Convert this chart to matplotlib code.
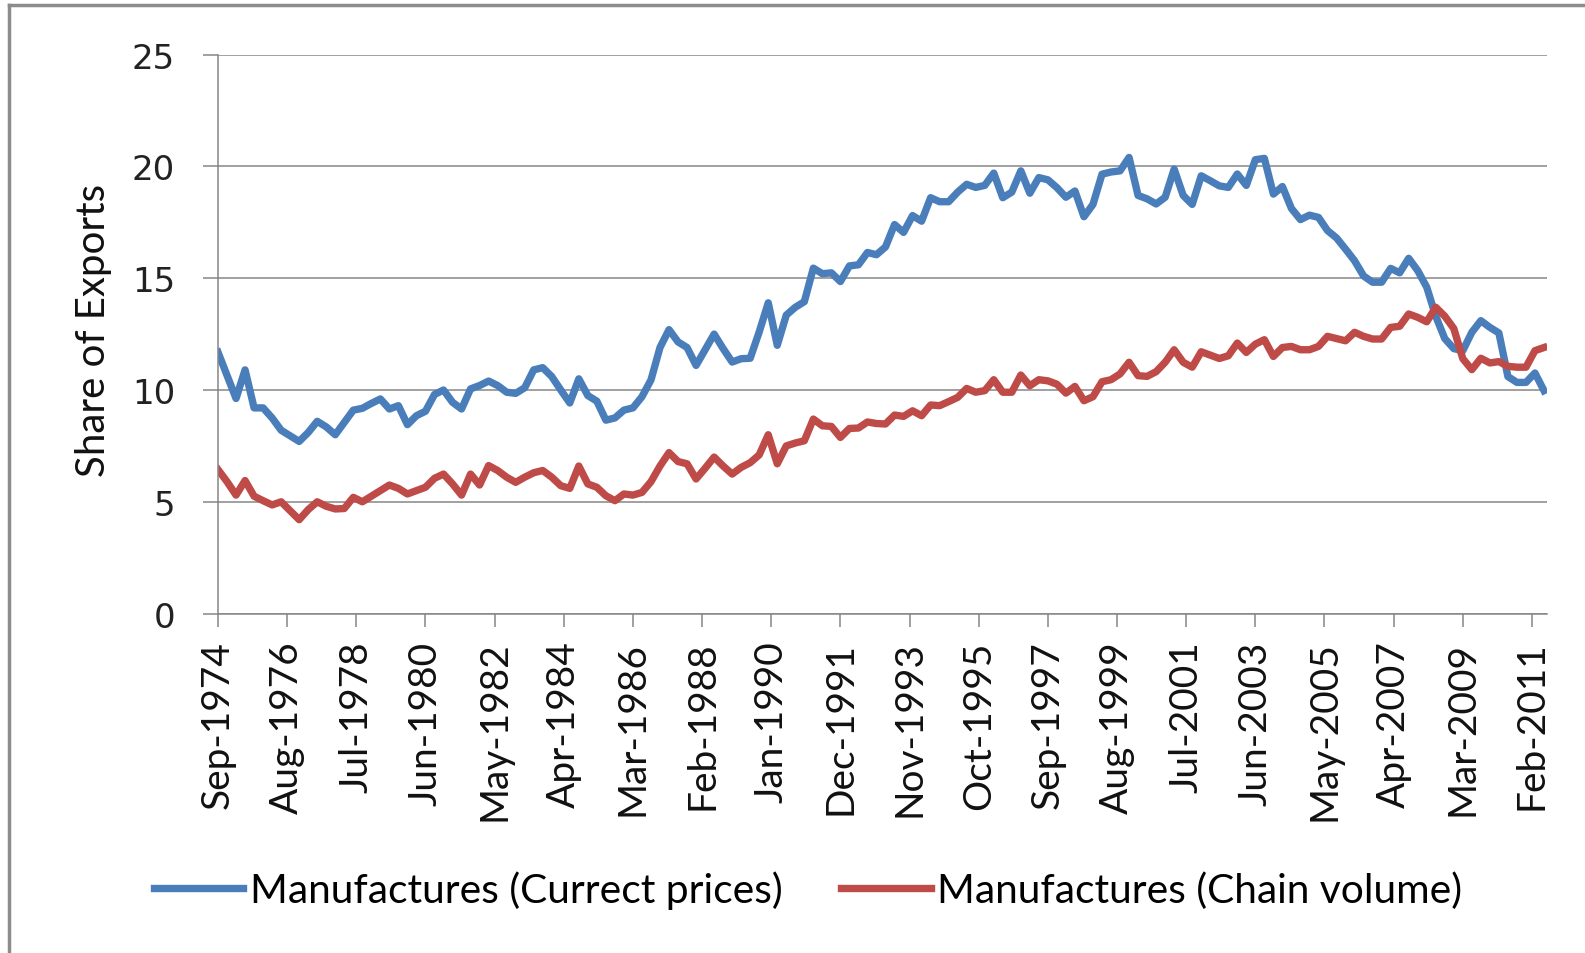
import numpy as np
import matplotlib
matplotlib.use("Agg")
import matplotlib.pyplot as plt
from matplotlib.lines import Line2D

# quarterly shares of exports, Sep-1974 .. Jun-2011
current_prices = [
    11.69, 10.65, 9.62, 10.9, 9.2, 9.2, 8.75, 8.2, 7.95, 7.7,
    8.1, 8.6, 8.35, 8.0, 8.55, 9.1, 9.18, 9.4, 9.6, 9.15,
    9.3, 8.45, 8.85, 9.05, 9.8, 10.0, 9.45, 9.15, 10.05, 10.2,
    10.4, 10.2, 9.9, 9.85, 10.1, 10.9, 11.0, 10.6, 10.0, 9.42,
    10.5, 9.75, 9.5, 8.65, 8.75, 9.1, 9.2, 9.7, 10.45, 11.9,
    12.7, 12.15, 11.9, 11.1, 11.8, 12.5, 11.85, 11.25, 11.4, 11.42,
    12.6, 13.9, 12.0, 13.35, 13.7, 13.95, 15.45, 15.2, 15.24, 14.85,
    15.55, 15.6, 16.15, 16.05, 16.4, 17.4, 17.05, 17.8, 17.55, 18.6,
    18.42, 18.42, 18.85, 19.2, 19.06, 19.15, 19.7, 18.6, 18.85, 19.8,
    18.8, 19.5, 19.4, 19.05, 18.62, 18.9, 17.75, 18.3, 19.65, 19.75,
    19.8, 20.4, 18.7, 18.55, 18.32, 18.62, 19.88, 18.7, 18.3, 19.58,
    19.36, 19.13, 19.06, 19.66, 19.15, 20.3, 20.36, 18.76, 19.1, 18.12,
    17.62, 17.82, 17.72, 17.13, 16.8, 16.3, 15.78, 15.1, 14.82, 14.82,
    15.44, 15.24, 15.89, 15.34, 14.6, 13.3, 12.3, 11.85, 11.76, 12.58,
    13.1, 12.8, 12.55, 10.6, 10.34, 10.34, 10.76, 9.97,
]
chain_volume = [
    6.44, 5.9, 5.3, 5.95, 5.25, 5.05, 4.86, 5.0, 4.6, 4.2,
    4.65, 5.0, 4.8, 4.68, 4.7, 5.2, 5.0, 5.25, 5.5, 5.75,
    5.6, 5.35, 5.5, 5.65, 6.05, 6.24, 5.8, 5.3, 6.24, 5.75,
    6.62, 6.4, 6.1, 5.87, 6.1, 6.3, 6.4, 6.1, 5.72, 5.6,
    6.6, 5.8, 5.65, 5.27, 5.05, 5.35, 5.3, 5.42, 5.9, 6.6,
    7.2, 6.8, 6.7, 6.02, 6.5, 7.0, 6.6, 6.24, 6.54, 6.75,
    7.1, 8.0, 6.7, 7.5, 7.63, 7.73, 8.7, 8.4, 8.37, 7.88,
    8.28, 8.3, 8.57, 8.5, 8.48, 8.88, 8.82, 9.07, 8.85, 9.33,
    9.3, 9.48, 9.67, 10.07, 9.9, 9.97, 10.46, 9.9, 9.9, 10.67,
    10.19, 10.46, 10.41, 10.26, 9.86, 10.16, 9.52, 9.7, 10.37, 10.46,
    10.72, 11.24, 10.64, 10.61, 10.82, 11.24, 11.8, 11.24, 11.02, 11.71,
    11.56, 11.41, 11.53, 12.1, 11.68, 12.05, 12.25, 11.5, 11.9, 11.95,
    11.8, 11.8, 11.95, 12.4, 12.3, 12.2, 12.58, 12.4, 12.28, 12.28,
    12.8, 12.85, 13.4, 13.25, 13.05, 13.7, 13.3, 12.75, 11.4, 10.91,
    11.42, 11.21, 11.27, 11.06, 11.02, 11.02, 11.76, 11.9,
]
tick_labels = ["Sep-1974", "Aug-1976", "Jul-1978", "Jun-1980", "May-1982",
               "Apr-1984", "Mar-1986", "Feb-1988", "Jan-1990", "Dec-1991",
               "Nov-1993", "Oct-1995", "Sep-1997", "Aug-1999", "Jul-2001",
               "Jun-2003", "May-2005", "Apr-2007", "Mar-2009", "Feb-2011"]
series_names = ["Manufactures (Currect prices)", "Manufactures (Chain volume)"]

BLUE = "#4a7ebb"
RED = "#be4b48"
GREY = "#868686"
TXT = ["Lato", "DejaVu Sans"]

# months since Sep-1974: one point per quarter, ticks every 23 months
months = np.arange(len(current_prices)) * 3
tick_pos = np.arange(len(tick_labels)) * 23

fig = plt.figure(figsize=(15.85, 9.54), dpi=100)
ax = fig.add_axes([218 / 1585, 1 - 614.6 / 954, 1329 / 1585, 559 / 954])

l1, = ax.plot(months, current_prices, color=BLUE, lw=5.3, solid_joinstyle="round")
l2, = ax.plot(months, chain_volume, color=RED, lw=5.3, solid_joinstyle="round")

ax.set_xlim(0, 442)
ax.set_ylim(0, 25)
ax.set_yticks(range(0, 26, 5))
ax.set_xticks(tick_pos)
ax.set_xticklabels(tick_labels, rotation=90, family=TXT, fontsize=28)
for t in ax.get_yticklabels():
    t.set_family("DejaVu Sans")
    t.set_fontsize(24.5)

ax.yaxis.grid(True, color=GREY, lw=1.1)
ax.set_axisbelow(True)
for s in ["top", "right"]:
    ax.spines[s].set_visible(False)
for s in ["left", "bottom"]:
    ax.spines[s].set_color(GREY)
    ax.spines[s].set_linewidth(1.1)
ax.tick_params(axis="y", direction="out", length=10.8, width=1.1, color=GREY, pad=20, labelcolor="#222222")
ax.tick_params(axis="x", direction="out", length=9.4, width=1.1, color=GREY, pad=10, labelcolor="#111111")

fig.text(94 / 1585, 1 - 330 / 954, "Share of Exports", rotation=90, ha="center", va="center",
         family=TXT, fontsize=29, color="#111111")

fig.legend([l1, l2], series_names, loc="center", bbox_to_anchor=(808 / 1585, 1 - 891 / 954),
           ncol=2, frameon=False, prop={"family": TXT, "size": 29.3},
           handlelength=2.2, handletextpad=0.15, columnspacing=1.45)

# grey frame round the chart (only top and left edges are inside the picture)
fig.add_artist(Line2D([9 / 1585, 9 / 1585], [0, 1 - 6 / 954], color="#8c8c8c", lw=2.5,
                      transform=fig.transFigure))
fig.add_artist(Line2D([9 / 1585, 1], [1 - 6 / 954, 1 - 6 / 954], color="#8c8c8c", lw=2.5,
                      transform=fig.transFigure))

fig.savefig("out.png", dpi=100)
